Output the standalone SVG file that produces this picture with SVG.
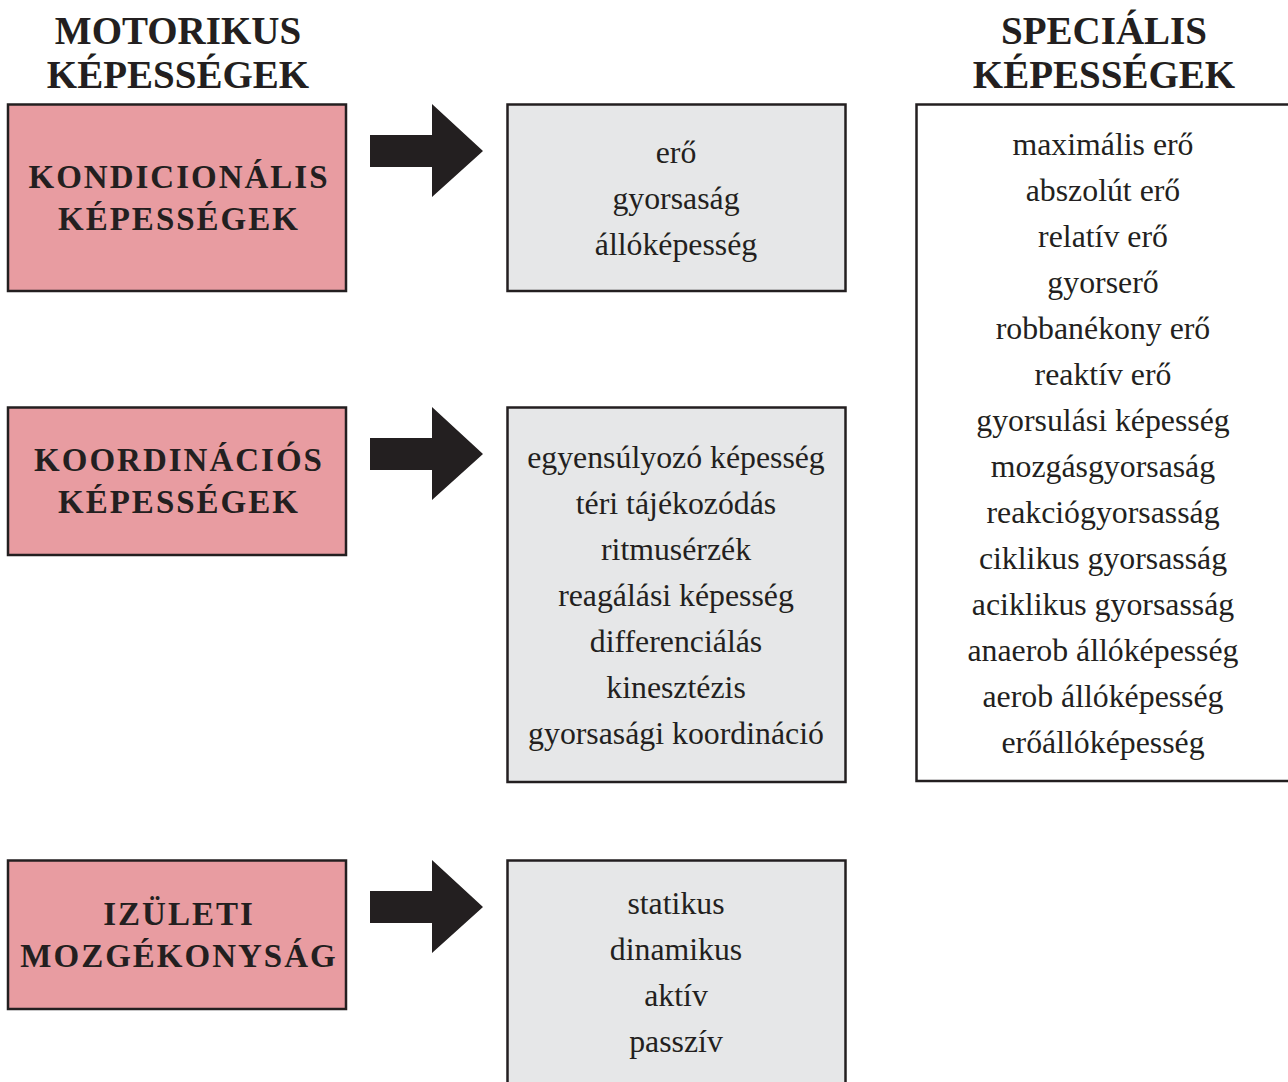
<svg xmlns="http://www.w3.org/2000/svg" width="1288" height="1082" viewBox="0 0 1288 1082">
<style>
.hd{font-family:"Liberation Serif","Times New Roman",serif;font-weight:bold;font-size:39px;fill:#231f20;text-anchor:middle}
.cat{font-family:"Liberation Serif","Times New Roman",serif;font-weight:bold;font-size:33px;letter-spacing:2px;fill:#231f20;text-anchor:middle}
.it{font-family:"Liberation Serif","Times New Roman",serif;font-size:31.8px;fill:#231f20;text-anchor:middle}
.pink{fill:#e89ca1;stroke:#231f20;stroke-width:2.5}
.gray{fill:#e6e7e8;stroke:#231f20;stroke-width:2.5}
.wht{fill:#ffffff;stroke:#231f20;stroke-width:2.5}
.arr{fill:#231f20}
</style>
<g id="header-motorikus">
<text class="hd" x="178" y="44">MOTORIKUS</text>
<text class="hd" x="178" y="88">KÉPESSÉGEK</text>
</g>
<g id="header-specialis">
<text class="hd" x="1104" y="44">SPECIÁLIS</text>
<text class="hd" x="1104" y="88">KÉPESSÉGEK</text>
</g>
<g id="kondicionalis">
<rect class="pink" x="8" y="104.5" width="338" height="186.5"/>
<text class="cat" x="179" y="188">KONDICIONÁLIS</text>
<text class="cat" x="179" y="230">KÉPESSÉGEK</text>
</g>
<g id="koordinacios">
<rect class="pink" x="8" y="407.5" width="338" height="147.5"/>
<text class="cat" x="179" y="471">KOORDINÁCIÓS</text>
<text class="cat" x="179" y="513">KÉPESSÉGEK</text>
</g>
<g id="izuleti">
<rect class="pink" x="8" y="860.5" width="338" height="148.5"/>
<text class="cat" x="179" y="925">IZÜLETI</text>
<text class="cat" x="179" y="967">MOZGÉKONYSÁG</text>
</g>
<g id="kond-list">
<rect class="gray" x="507.5" y="104.5" width="338" height="186.5"/>
<text class="it" x="676" y="163">erő</text>
<text class="it" x="676" y="209">gyorsaság</text>
<text class="it" x="676" y="255">állóképesség</text>
</g>
<g id="koord-list">
<rect class="gray" x="507.5" y="407.5" width="338" height="374.5"/>
<text class="it" x="676" y="468">egyensúlyozó képesség</text>
<text class="it" x="676" y="514">téri tájékozódás</text>
<text class="it" x="676" y="560">ritmusérzék</text>
<text class="it" x="676" y="606">reagálási képesség</text>
<text class="it" x="676" y="652">differenciálás</text>
<text class="it" x="676" y="698">kinesztézis</text>
<text class="it" x="676" y="744">gyorsasági koordináció</text>
</g>
<g id="izuleti-list">
<rect class="gray" x="507.5" y="860.5" width="338" height="230"/>
<text class="it" x="676" y="914">statikus</text>
<text class="it" x="676" y="960">dinamikus</text>
<text class="it" x="676" y="1006">aktív</text>
<text class="it" x="676" y="1052">passzív</text>
</g>
<g id="specialis-list">
<rect class="wht" x="916.5" y="104.5" width="380" height="676.5"/>
<text class="it" x="1103" y="155">maximális erő</text>
<text class="it" x="1103" y="201">abszolút erő</text>
<text class="it" x="1103" y="247">relatív erő</text>
<text class="it" x="1103" y="293">gyorserő</text>
<text class="it" x="1103" y="339">robbanékony erő</text>
<text class="it" x="1103" y="385">reaktív erő</text>
<text class="it" x="1103" y="431">gyorsulási képesség</text>
<text class="it" x="1103" y="477">mozgásgyorsaság</text>
<text class="it" x="1103" y="523">reakciógyorsasság</text>
<text class="it" x="1103" y="569">ciklikus gyorsasság</text>
<text class="it" x="1103" y="615">aciklikus gyorsasság</text>
<text class="it" x="1103" y="661">anaerob állóképesség</text>
<text class="it" x="1103" y="707">aerob állóképesség</text>
<text class="it" x="1103" y="753">erőállóképesség</text>
</g>
<g id="connectors">
<polygon class="arr" points="370,135 432,135 432,104 483,151 432,197 432,167 370,167"/>
<polygon class="arr" points="370,438 432,438 432,407 483,454 432,500 432,470 370,470"/>
<polygon class="arr" points="370,891 432,891 432,860 483,907 432,953 432,923 370,923"/>
</g>
</svg>
